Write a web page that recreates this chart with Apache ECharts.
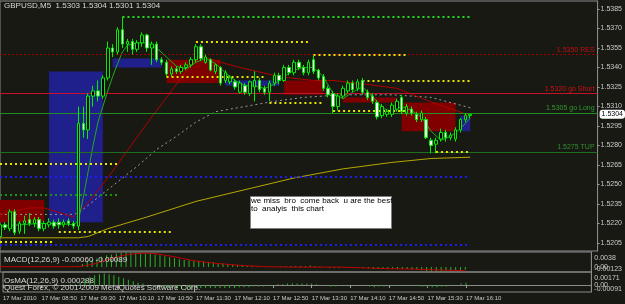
<!DOCTYPE html>
<html><head><meta charset="utf-8">
<script src="https://cdn.jsdelivr.net/npm/echarts@6/dist/echarts.min.js"></script>
<style>html,body{margin:0;padding:0;background:#191914;}#c{width:625px;height:304px;}</style>
</head><body><div id="c"></div>
<script>
// ---- data ----
const barCount = 123; // 5-minute bars from 08:10 (97 traded + shift area)
const categories = [];
for (let i = 0; i < barCount; i++) {
  const m = 8 * 60 + 10 + 5 * i;
  categories.push(String(Math.floor(m / 60)).padStart(2, '0') + ':' + String(m % 60).padStart(2, '0'));
}
const timeTickIndex = [0, 8, 16, 24, 32, 40, 48, 56, 64, 72, 80, 88, 96];
const timeTickLabels = ['17 Mar 2010', '17 Mar 08:50', '17 Mar 09:30', '17 Mar 10:10', '17 Mar 10:50', '17 Mar 11:30',
  '17 Mar 12:10', '17 Mar 12:50', '17 Mar 13:30', '17 Mar 14:10', '17 Mar 14:50', '17 Mar 15:30', '17 Mar 16:10'];
const priceTicks = [1.5205, 1.5220, 1.5235, 1.5250, 1.5265, 1.5280, 1.5295, 1.5310, 1.5325, 1.5340, 1.5355, 1.5370, 1.5385];

// [open, close, low, high]
const candles = [
  [1.5210, 1.5219, 1.5208, 1.5221], [1.5219, 1.5217, 1.5215, 1.5221], [1.5216, 1.5229, 1.5214, 1.5231], [1.5229, 1.5213, 1.5211, 1.5231],
  [1.5214, 1.5220, 1.5212, 1.5222], [1.5220, 1.5222, 1.5212, 1.5226], [1.5223, 1.5220, 1.5218, 1.5228], [1.5220, 1.5223, 1.5217, 1.5225],
  [1.5223, 1.5216, 1.5214, 1.5225], [1.5216, 1.5220, 1.5214, 1.5222], [1.5219, 1.5221, 1.5217, 1.5224], [1.5221, 1.5218, 1.5216, 1.5223],
  [1.5221, 1.5219, 1.5216, 1.5224], [1.5219, 1.5221, 1.5217, 1.5223], [1.5222, 1.5220, 1.5218, 1.5224], [1.5220, 1.5218, 1.5216, 1.5222],
  [1.5218, 1.5297, 1.5215, 1.5310], [1.5297, 1.5292, 1.5286, 1.5310], [1.5292, 1.5318, 1.5285, 1.5320], [1.5318, 1.5322, 1.5310, 1.5326],
  [1.5322, 1.5318, 1.5314, 1.5330], [1.5318, 1.5332, 1.5316, 1.5334], [1.5332, 1.5355, 1.5330, 1.5360], [1.5355, 1.5352, 1.5348, 1.5358],
  [1.5352, 1.5369, 1.5350, 1.5371], [1.5369, 1.5358, 1.5355, 1.5379], [1.5358, 1.5360, 1.5352, 1.5362], [1.5360, 1.5354, 1.5350, 1.5362],
  [1.5354, 1.5359, 1.5352, 1.5361], [1.5359, 1.5365, 1.5356, 1.5367], [1.5365, 1.5355, 1.5352, 1.5366], [1.5355, 1.5358, 1.5342, 1.5360],
  [1.5358, 1.5346, 1.5344, 1.5360], [1.5346, 1.5344, 1.5342, 1.5348], [1.5344, 1.5335, 1.5333, 1.5346], [1.5335, 1.5339, 1.5333, 1.5341],
  [1.5339, 1.5337, 1.5335, 1.5341], [1.5337, 1.5340, 1.5335, 1.5342], [1.5340, 1.5342, 1.5338, 1.5344], [1.5342, 1.5346, 1.5340, 1.5348],
  [1.5346, 1.5356, 1.5344, 1.5358], [1.5356, 1.5347, 1.5345, 1.5358], [1.5344, 1.5348, 1.5343, 1.5350], [1.5346, 1.5338, 1.5337, 1.5347],
  [1.5337, 1.5342, 1.5335, 1.5343], [1.5340, 1.5328, 1.5326, 1.5341], [1.5330, 1.5336, 1.5328, 1.5338], [1.5329, 1.5332, 1.5327, 1.5334],
  [1.5329, 1.5325, 1.5323, 1.5331], [1.5321, 1.5328, 1.5320, 1.5330], [1.5326, 1.5321, 1.5319, 1.5328], [1.5320, 1.5329, 1.5318, 1.5330],
  [1.5325, 1.5330, 1.5314, 1.5337], [1.5330, 1.5323, 1.5321, 1.5332], [1.5324, 1.5321, 1.5319, 1.5326], [1.5321, 1.5328, 1.5314, 1.5330],
  [1.5328, 1.5334, 1.5326, 1.5336], [1.5334, 1.5330, 1.5327, 1.5336], [1.5330, 1.5340, 1.5329, 1.5342], [1.5340, 1.5336, 1.5334, 1.5342],
  [1.5336, 1.5344, 1.5334, 1.5346], [1.5344, 1.5340, 1.5338, 1.5346], [1.5340, 1.5336, 1.5334, 1.5342], [1.5336, 1.5344, 1.5334, 1.5346],
  [1.5346, 1.5337, 1.5335, 1.5349], [1.5338, 1.5332, 1.5330, 1.5339], [1.5333, 1.5324, 1.5322, 1.5335], [1.5324, 1.5319, 1.5317, 1.5326],
  [1.5320, 1.5310, 1.5305, 1.5322], [1.5310, 1.5318, 1.5307, 1.5320], [1.5318, 1.5324, 1.5316, 1.5326], [1.5322, 1.5328, 1.5320, 1.5330],
  [1.5328, 1.5323, 1.5321, 1.5330], [1.5324, 1.5329, 1.5322, 1.5331], [1.5330, 1.5321, 1.5319, 1.5332], [1.5321, 1.5317, 1.5315, 1.5323],
  [1.5318, 1.5314, 1.5312, 1.5320], [1.5313, 1.5302, 1.5300, 1.5315], [1.5303, 1.5310, 1.5301, 1.5312], [1.5304, 1.5306, 1.5302, 1.5308],
  [1.5304, 1.5311, 1.5302, 1.5313], [1.5308, 1.5314, 1.5306, 1.5316], [1.5317, 1.5306, 1.5304, 1.5319], [1.5305, 1.5310, 1.5303, 1.5312],
  [1.5308, 1.5305, 1.5303, 1.5310], [1.5304, 1.5300, 1.5298, 1.5306], [1.5300, 1.5305, 1.5298, 1.5307], [1.5300, 1.5286, 1.5285, 1.5302],
  [1.5284, 1.5280, 1.5274, 1.5286], [1.5281, 1.5284, 1.5274, 1.5286], [1.5285, 1.5290, 1.5283, 1.5293], [1.5290, 1.5286, 1.5283, 1.5292],
  [1.5286, 1.5288, 1.5284, 1.5290], [1.5285, 1.5292, 1.5283, 1.5294], [1.5292, 1.5300, 1.5290, 1.5301], [1.5300, 1.5303, 1.5298, 1.5305],
  [1.5303, 1.5304, 1.5301, 1.5304]
];

// moving averages: [bar index, price]
const maRed = [[0, 1.5227], [6, 1.5232], [9, 1.5232], [15, 1.5225], [18, 1.5236], [22, 1.5255], [26, 1.5276], [30, 1.5297],
  [34, 1.5317], [38, 1.5337], [40, 1.5346], [41, 1.5349], [45, 1.5344], [49, 1.5340], [57, 1.5333], [64, 1.5330],
  [68, 1.5330], [75, 1.5327], [81, 1.5324], [87, 1.5315], [96, 1.5303]];
const maGrey = [[0, 1.5227], [15, 1.5227], [16, 1.5228], [20, 1.5240], [24, 1.5252], [28, 1.5264], [32, 1.5277], [36, 1.5287],
  [40, 1.5298], [44, 1.5306], [50, 1.5310], [56, 1.5314], [62, 1.5317], [70, 1.5319], [80, 1.5319], [88, 1.5317], [96, 1.5309]];
const maOlive = [[0, 1.5209], [16, 1.5209], [18, 1.5210], [22, 1.5216], [30, 1.5225], [40, 1.5237], [50, 1.5246], [60, 1.5255],
  [70, 1.5262], [80, 1.5267], [88, 1.5270], [96, 1.5271]];
const maGreen = [[0, 1.5218], [4, 1.5219], [8, 1.5220], [12, 1.5220], [15, 1.5219], [16, 1.5222], [17, 1.5240], [18, 1.5260],
  [19, 1.5280], [20, 1.5298], [21, 1.5310], [22, 1.5322], [23, 1.5333], [24, 1.5343], [25, 1.5352], [26, 1.5357], [28, 1.5359],
  [30, 1.5359], [32, 1.5355], [34, 1.5348], [36, 1.5341], [38, 1.5339], [40, 1.5344], [42, 1.5347], [44, 1.5343], [46, 1.5336],
  [48, 1.5330], [50, 1.5326], [52, 1.5326], [54, 1.5324], [56, 1.5327], [58, 1.5333], [60, 1.5338], [62, 1.5340], [64, 1.5340],
  [66, 1.5333], [68, 1.5320], [70, 1.5316], [72, 1.5321], [74, 1.5325], [76, 1.5318], [78, 1.5309], [80, 1.5306], [82, 1.5310],
  [84, 1.5307], [86, 1.5302], [88, 1.5291], [90, 1.5284], [92, 1.5287], [94, 1.5293], [96, 1.5301]];

const macdHist = [
  0, 0, 0, 0, 0, 0, 0, 0, 0, 0, 0, 0, 0, 0.0001, 0.0001, 0.0001,
  0.0003, 0.0008, 0.0013, 0.0018, 0.0022, 0.0026, 0.0030, 0.0032, 0.0034, 0.0036,
  0.0037, 0.0037, 0.0037, 0.0036, 0.0035, 0.0034, 0.0032, 0.0030, 0.0027, 0.0025,
  0.0022, 0.0020, 0.0018, 0.0017, 0.0016, 0.0016, 0.0015, 0.0013, 0.0012, 0.0010,
  0.0009, 0.0008, 0.0006, 0.0005, 0.0004, 0.0003, 0.0003, 0.0002, 0.0001, 0.0001,
  0.0001, 0.0001, 0.0002, 0.0002, 0.0003, 0.0003, 0.0003, 0.0003, 0.0004, 0.0003,
  0.0002, 0.0000, -0.0002, -0.0002, -0.0002, -0.0001, -0.0001, -0.0001, -0.0001, -0.0002,
  -0.0003, -0.0005, -0.0005, -0.0005, -0.0005, -0.0004, -0.0005, -0.0005, -0.0005, -0.0006,
  -0.0006, -0.0008, -0.0010, -0.0011, -0.0011, -0.0011, -0.0011, -0.0010, -0.0009, -0.0007,
  -0.0006
];
const macdSignal = [[0, 0.0001], [16, 0.0001], [18, 0.0004], [20, 0.0010], [22, 0.0018], [24, 0.0025], [26, 0.0031],
  [28, 0.0034], [30, 0.0035], [32, 0.0034], [34, 0.0030], [36, 0.0026], [38, 0.0021], [40, 0.0016], [42, 0.0013],
  [45, 0.0009], [50, 0.0004], [55, 0.0001], [60, 0.0000], [70, 0.0000], [75, -0.0002], [80, -0.0004], [85, -0.0005],
  [90, -0.0007], [96, -0.0009]];
const osma = [
  0, 0, 0, 0, 0, 0, 0, 0, 0, 0, 0, 0, 0, 0, 0.0001, 0.0001,
  0.0003, 0.0008, 0.0011, 0.0013, 0.0014, 0.0015, 0.0014, 0.0013, 0.0011, 0.0009,
  0.0007, 0.0005, 0.0003, 0.0002, 0.0000, -0.0001, -0.0002, -0.0003, -0.0004, -0.0004,
  -0.0005, -0.0005, -0.0005, -0.0005, -0.0004, -0.0004, -0.0004, -0.0004, -0.0004, -0.0004,
  -0.0004, -0.0004, -0.0004, -0.0003, -0.0003, -0.0003, -0.0002, -0.0002, -0.0002, -0.0001,
  -0.0001, 0.0001, 0.0001, 0.0002, 0.0002, 0.0002, 0.0002, 0.0002, 0.0002, 0.0001,
  0.0000, -0.0001, -0.0002, -0.0002, -0.0001, -0.0001, 0.0000, 0.0000, 0.0000, -0.0001,
  -0.0002, -0.0003, -0.0002, -0.0002, -0.0001, -0.0001, -0.0001, -0.0001, -0.0001, -0.0001,
  -0.0001, -0.0002, -0.0003, -0.0003, -0.0003, -0.0002, -0.0002, -0.0001, 0.0000, 0.0002,
  0.0003
];

// horizontal levels: [price, label, kind]
const levels = [[1.5350, '1.5350 RES', 'res'], [1.5320, '1.5320 go Short', 'short'], [1.5305, '1.5305 go Long', 'long'], [1.5275, '1.5275 TUP', 'tup']];
const lastPrice = 1.5304;
// zones: [fromBar, toBar, top, bottom, kind]
const zones = [
  [10.3, 21.3, 1.5337, 1.5221, 'blue'], [22.5, 33, 1.5347, 1.5340, 'blue'], [46, 57, 1.5330, 1.5326, 'blue'], [94, 96, 1.5303, 1.5291, 'blue'],
  [0, 9, 1.5238, 1.5221, 'red'], [34, 45, 1.5346, 1.5328, 'red'], [58, 66, 1.5330, 1.5319, 'red'], [70, 81, 1.5317, 1.5313, 'red'], [82, 93, 1.5313, 1.5291, 'red']
];
// dotted segments: [fromBar, toBar, price, kind]
const dotted = [
  [25, 96, 1.5379, 'lime'], [40, 63, 1.5360, 'yellow'], [64, 83, 1.5350, 'yellow'], [74, 96, 1.5330, 'yellow'],
  [34, 54, 1.5333, 'yellow'], [55, 66, 1.5313, 'yellow'], [68, 83, 1.5307, 'yellow'], [89, 96, 1.5275, 'yellow'],
  [0, 24, 1.5266, 'yellow'], [12, 35, 1.5214, 'yellow'], [0, 11, 1.5206, 'yellow'],
  [0, 96, 1.5256, 'blue'], [0, 96, 1.5204, 'blue'], [0, 24, 1.5242, 'green']
];

// ---- styles ----
const FONT = "'Liberation Sans',Arial,sans-serif";
const TXT = '#c8c8c8';
const zoneColor = { blue: '#20208c', red: '#800000' };
const dotColor = { lime: '#22dd22', yellow: '#e6e600', blue: '#1c1cf0', green: '#1f8f1f' };
const levelStyle = {
  res: { line: '#a00000', type: [2, 2], text: '#c01010' },
  short: { line: '#c8102a', type: 'solid', text: '#d01010' },
  long: { line: '#1f8f1f', type: 'solid', text: '#2f9a2f' },
  tup: { line: '#1f6f1f', type: 'solid', text: '#2f8f2f' }
};
const lastBar = barCount - 1;

const markLineData = [];
levels.forEach(([v, t, k]) => {
  const s = levelStyle[k];
  markLineData.push([
    { coord: [0, v], lineStyle: { color: s.line, type: s.type, width: 1 },
      label: { show: true, position: 'insideEndTop', formatter: t, color: s.text, fontSize: 7, fontFamily: FONT, distance: [3, 1] } },
    { coord: [lastBar, v] }
  ]);
});
dotted.forEach(([a, b, v, k]) => {
  markLineData.push([{ coord: [a, v], lineStyle: { color: dotColor[k], type: [2, 3], width: 2 }, label: { show: false } }, { coord: [b, v] }]);
});

const markAreaData = zones.map(([a, b, t, btm, k]) => [
  { coord: [a, t], itemStyle: { color: zoneColor[k] } }, { coord: [b, btm] }
]);

const gridDefs = [
  { left: 0, top: 1, width: 603, height: 250 },
  { left: 0, top: 252, width: 603, height: 20 },
  { left: 0, top: 272, width: 603, height: 20 }
];

const chart = echarts.init(document.getElementById('c'), null, { renderer: 'canvas' });
const tickSet = new Set(timeTickIndex);
const xAxes = [0, 1, 2].map(g => ({
  type: 'category', gridIndex: g, data: categories, boundaryGap: false,
  axisLine: { show: g === 2, lineStyle: { color: '#8a8a8a' } },
  axisTick: { show: g === 2, interval: (i) => tickSet.has(i), length: 3, lineStyle: { color: '#a0a0a0' } },
  axisLabel: { show: g === 2, interval: (i) => tickSet.has(i), align: 'left', margin: 3, hideOverlap: false,
    showMinLabel: true, showMaxLabel: true,
    formatter: (v, i) => timeTickLabels[timeTickIndex.indexOf(i)] || '', color: TXT, fontSize: 6, fontFamily: FONT },
  splitLine: { show: false }
}));

const subLabel = (map) => ({
  customValues: Object.keys(map).map(Number), color: TXT, fontSize: 7, fontFamily: FONT, margin: 3, hideOverlap: false,
  formatter: (v) => { const k = Object.keys(map).find(x => Math.abs(Number(x) - v) < 1e-9); return map[k] || ''; },
  rich: { t: { padding: [12, 0, 0, 0], color: TXT, fontSize: 7, fontFamily: FONT }, b: { padding: [0, 0, 6, 0], color: TXT, fontSize: 7, fontFamily: FONT } }
});

const titleStyle = { color: '#d8d8d8', fontSize: 8, fontWeight: 'normal', fontFamily: FONT };
const option = {
  backgroundColor: '#191914',
  animation: false,
  title: [
    { text: 'GBPUSD,M5  1.5303 1.5304 1.5301 1.5304', left: 4, top: 2, padding: 0, textStyle: titleStyle },
    { text: 'MACD(12,26,9) -0.00060 -0.00089', left: 4, top: 256, padding: 0, textStyle: titleStyle },
    { text: 'OsMA(12,26,9) 0.000288', left: 4, top: 277, padding: 0, textStyle: titleStyle },
    { text: 'Quest Forex, © 2001-2009 MetaQuotes Software Corp.', left: 4, top: 284, padding: 0, textStyle: titleStyle }
  ],
  grid: gridDefs.map(g => Object.assign({ show: true, borderColor: '#8a8a8a', borderWidth: 1, backgroundColor: 'transparent' }, g)),
  xAxis: xAxes,
  yAxis: [
    { type: 'value', gridIndex: 0, position: 'right', min: 1.519885, max: 1.539115, scale: true,
      splitLine: { show: false }, axisLine: { show: true, lineStyle: { color: '#8a8a8a' } },
      axisTick: { show: true, length: 2, customValues: priceTicks, lineStyle: { color: '#a0a0a0' } },
      axisLabel: { customValues: priceTicks, formatter: (v) => v.toFixed(4), color: TXT, fontSize: 7, fontFamily: FONT, margin: 3 },
      axisPointer: { show: true, value: lastPrice, status: 'show', triggerTooltip: false,
        lineStyle: { opacity: 0 },
        label: { show: true, formatter: (p) => Number(p.value).toFixed(4), color: '#000', backgroundColor: '#ffffff',
          fontSize: 7, fontFamily: FONT, padding: [1, 2, 1, 2], margin: 2 } } },
    { type: 'value', gridIndex: 1, position: 'right', min: -0.00123, max: 0.0038,
      splitLine: { show: false }, axisLine: { show: true, lineStyle: { color: '#8a8a8a' } }, axisTick: { show: false },
      axisLabel: subLabel({ '0.0038': '{t|0.0038}', '0': '0.00', '-0.00123': '{b|-0.00123}' }) },
    { type: 'value', gridIndex: 2, position: 'right', min: -0.00091, max: 0.00171,
      splitLine: { show: false }, axisLine: { show: true, lineStyle: { color: '#8a8a8a' } }, axisTick: { show: false },
      axisLabel: subLabel({ '0.00171': '{t|0.00171}', '0': '0.00', '-0.00091': '{b|-0.00091}' }) }
  ],
  series: [
    { type: 'line', name: 'zones', xAxisIndex: 0, yAxisIndex: 0, data: [], z: 1, silent: true,
      markArea: { silent: true, data: markAreaData } },
    { type: 'line', name: 'levels', xAxisIndex: 0, yAxisIndex: 0, data: [], z: 2, silent: true,
      markLine: { silent: true, symbol: ['none', 'none'], animation: false, data: markLineData } },
    { type: 'line', name: 'MA slow', data: maOlive, xAxisIndex: 0, yAxisIndex: 0, showSymbol: false, z: 3,
      lineStyle: { color: '#b5a800', width: 1 } },
    { type: 'line', name: 'MA mid', data: maGrey, xAxisIndex: 0, yAxisIndex: 0, showSymbol: false, z: 3,
      lineStyle: { color: '#9a9a9a', width: 1, type: [2, 3] } },
    { type: 'line', name: 'MA red', data: maRed, xAxisIndex: 0, yAxisIndex: 0, showSymbol: false, z: 3,
      lineStyle: { color: '#b00000', width: 1 } },
    { type: 'line', name: 'MA fast', data: maGreen, xAxisIndex: 0, yAxisIndex: 0, showSymbol: false, z: 4,
      lineStyle: { color: '#22a822', width: 1 } },
    { type: 'candlestick', name: 'GBPUSD', data: candles, xAxisIndex: 0, yAxisIndex: 0, z: 5, barWidth: 3,
      itemStyle: { color: '#000000', color0: '#ffffff', borderColor: '#00ee00', borderColor0: '#00ee00', borderWidth: 1 } },
    { type: 'bar', name: 'MACD', data: macdHist, xAxisIndex: 1, yAxisIndex: 1, barWidth: 1,
      itemStyle: { color: '#2cb02c' } },
    { type: 'line', name: 'Signal', data: macdSignal, xAxisIndex: 1, yAxisIndex: 1, showSymbol: false,
      lineStyle: { color: '#c00000', width: 1 } },
    { type: 'bar', name: 'OsMA', data: osma, xAxisIndex: 2, yAxisIndex: 2, barWidth: 1,
      itemStyle: { color: '#2cb02c' } }
  ],
  graphic: [
    { type: 'rect', left: 250, top: 196, shape: { width: 141, height: 32 }, style: { fill: '#ffffff', stroke: '#808080', lineWidth: 1 }, z: 100 },
    { type: 'text', left: 251, top: 197, style: { text: 'we miss  bro  come back  u are the best', fill: '#000', fontSize: 8, fontFamily: FONT }, z: 101 },
    { type: 'text', left: 251, top: 205, style: { text: 'to  analyis  this chart', fill: '#000', fontSize: 8, fontFamily: FONT }, z: 101 }
  ]
};
chart.setOption(option);
</script>
</body></html>
